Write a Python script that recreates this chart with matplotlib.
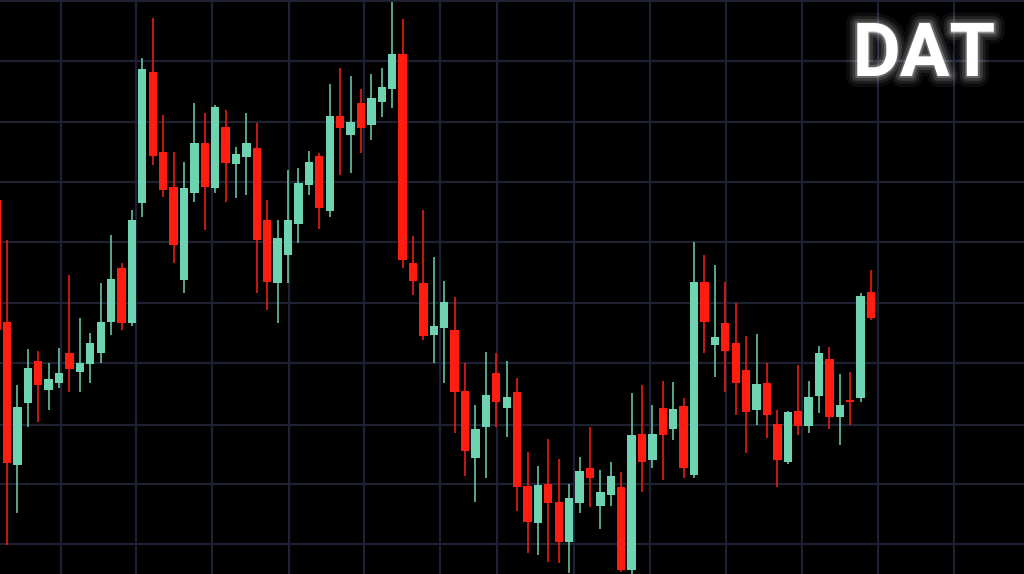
import matplotlib
matplotlib.use("Agg")
import matplotlib.pyplot as plt
import matplotlib.patheffects as pe
import numpy as np

# ---- data (price units) ----
opens = [374, 252, 109, 171, 213, 184, 191, 221, 202, 210, 221, 252, 306, 251, 371, 502, 422, 387,
         294, 381, 431, 386, 447, 410, 417, 426, 354, 291, 319, 350, 389, 418, 363, 458, 439, 471,
         449, 472, 485, 520, 311, 291, 239, 246, 244, 183, 116, 147, 201, 166, 182, 88, 51, 90, 72,
         32, 71, 106, 68, 79, 87, 4, 140, 114, 166, 145, 168, 99, 292, 229, 251, 231, 204, 164, 191,
         150, 112, 163, 148, 178, 215, 157, 174, 176, 282]
highs = [384, 334, 189, 225, 223, 211, 226, 299, 256, 241, 291, 339, 311, 364, 516, 556, 459, 422,
         412, 471, 461, 469, 464, 427, 461, 451, 374, 354, 404, 406, 423, 421, 490, 506, 498, 485,
         500, 506, 572, 555, 338, 364, 317, 293, 277, 211, 169, 222, 221, 213, 196, 122, 108, 135,
         115, 90, 117, 147, 104, 112, 102, 181, 189, 169, 193, 192, 176, 332, 319, 309, 292, 271,
         238, 240, 211, 164, 163, 209, 193, 228, 227, 200, 202, 281, 304]
lows = [234, 29, 61, 147, 152, 164, 186, 182, 182, 191, 211, 239, 244, 248, 357, 409, 377, 311,
        281, 372, 344, 381, 372, 376, 379, 281, 264, 251, 291, 331, 379, 345, 357, 399, 401, 421,
        434, 457, 466, 306, 279, 234, 211, 191, 141, 98, 72, 96, 147, 137, 63, 21, 19, 12, 11, 1,
        61, 67, 45, 68, 2, -2, 82, 106, 94, 134, 96, 96, 221, 197, 182, 159, 121, 149, 136, 87,
        110, 139, 141, 161, 145, 129, 149, 172, 254]
closes = [244, 111, 167, 206, 189, 195, 201, 205, 211, 231, 252, 295, 251, 354, 505, 418, 384, 329,
          386, 431, 387, 467, 411, 420, 431, 334, 292, 336, 354, 391, 412, 366, 458, 446, 452, 446,
          476, 487, 520, 314, 293, 238, 248, 272, 182, 123, 145, 179, 172, 177, 87, 52, 89, 71, 32,
          76, 103, 96, 82, 98, 4, 139, 112, 140, 139, 165, 106, 292, 252, 237, 223, 191, 162, 190,
          159, 114, 162, 148, 177, 221, 157, 169, 172, 278, 256]

# ---- style ----
BG = "#000000"
GRID = "#1e2132"
UP = "#6dd3b0"
DOWN = "#ff1d12"

W, H, DPI = 1024, 574, 100
fig = plt.figure(figsize=(W / DPI, H / DPI), dpi=DPI, facecolor=BG)

# background grid axes in pixel coordinates
bg = fig.add_axes([0, 0, 1, 1])
bg.set_xlim(0, W)
bg.set_ylim(H, 0)
bg.set_facecolor(BG)
bg.axis("off")
grid_x = [61, 136, 212, 289, 364, 440, 497, 574, 650, 726, 802, 878, 954]
grid_y = [1, 61, 122, 182, 242, 303, 363, 425, 484, 544]
for gx in grid_x:
    bg.axvline(gx, color=GRID, lw=1.6, zorder=0)
for gy in grid_y:
    bg.axhline(gy, color=GRID, lw=1.6, zorder=0)

# candle axes
ax = fig.add_axes([0, 0, 1, 1])
ax.patch.set_alpha(0)
n = len(opens)
idx = np.arange(n) - 1  # first candle partially off-screen
o = np.array(opens, float)
h = np.array(highs, float)
l = np.array(lows, float)
c = np.array(closes, float)
up = c > o
colors = np.where(up, UP, DOWN)

ax.vlines(idx, l, h, colors=colors, lw=1.1, zorder=2)
bottom = np.minimum(o, c)
height = np.maximum(np.abs(c - o), 2.0)
ax.bar(idx, height, bottom=bottom, width=0.8, color=colors, edgecolor="none", zorder=3)

step = 10.41
x0 = 7.0
ax.set_xlim((0 - x0) / step, (W - x0) / step)
ax.set_ylim(0, H)
ax.axis("off")

# logo with glow
logo = "DAT"
tx, ty = 924, 56
for lw_, a in [(16, 0.05), (11, 0.08), (7, 0.12), (3, 0.22)]:
    bg.text(tx, ty, logo, color="white", fontsize=53, fontweight="bold", family="Roboto",
            ha="center", va="center", alpha=a,
            path_effects=[pe.withStroke(linewidth=lw_, foreground="white")], zorder=5)
bg.text(tx, ty, logo, color="white", fontsize=53, fontweight="bold", family="Roboto",
        ha="center", va="center", zorder=6)

fig.savefig("out.png", dpi=DPI, facecolor=BG)
